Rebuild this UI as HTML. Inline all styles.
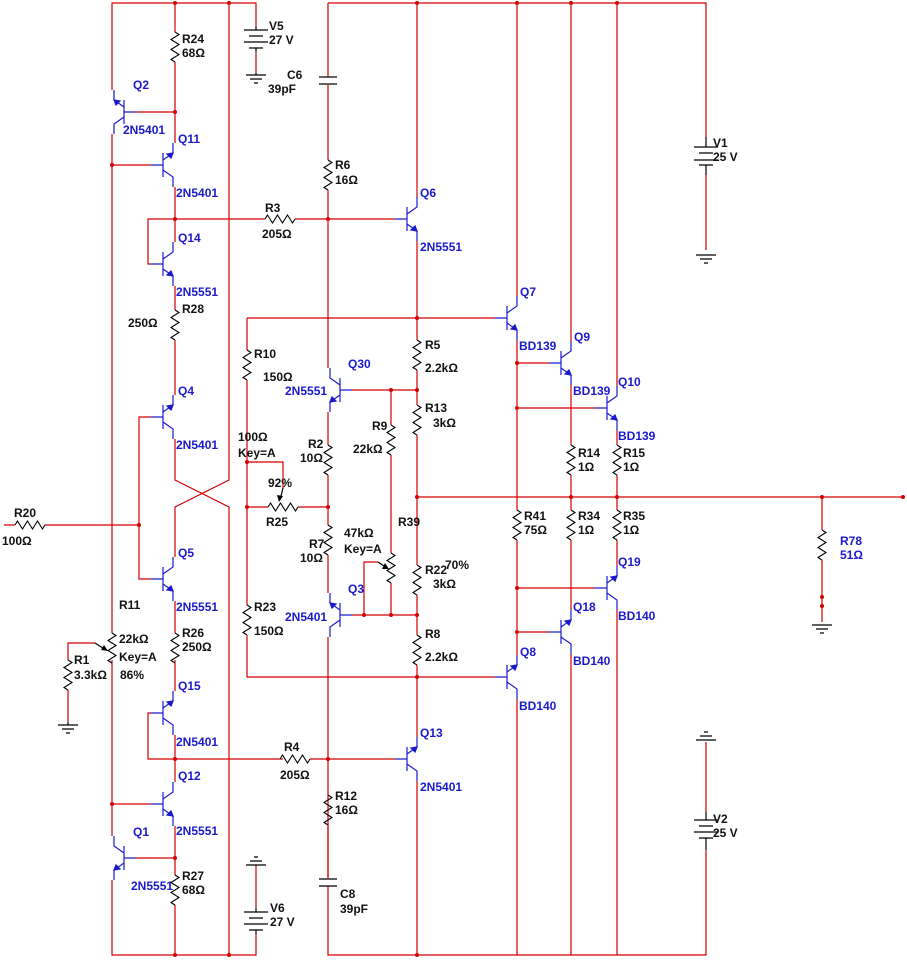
<!DOCTYPE html>
<html><head><meta charset="utf-8"><style>
body{margin:0;background:#fff}
svg{display:block}
text{font-family:"Liberation Sans",Arial,sans-serif;font-size:12px;font-weight:bold;fill:#111}
.b{fill:#1a1acc}
.w{stroke:#d40000;stroke-width:1.2;fill:none}
.k{stroke:#000;stroke-width:1.2;fill:none}
.t{stroke:#1a1acc;stroke-width:1.2;fill:none}
.d{fill:#d40000}
</style></head><body>
<svg width="907" height="960" viewBox="0 0 907 960" xmlns="http://www.w3.org/2000/svg">
<defs>
<path id="rv" d="M0,0 l4,2.5 l-8,5 l8,5 l-8,5 l8,5 l-8,5 l4,2.5" stroke="#000" stroke-width="1.1" fill="none"/>
<path id="rh" d="M0,0 l2.5,-4 l5,8 l5,-8 l5,8 l5,-8 l5,8 l2.5,-4" stroke="#000" stroke-width="1.1" fill="none"/>
<g id="q" stroke="#1a1acc" stroke-width="1.2" fill="none">
<path d="M0,-12 V12 M-12,0 H0 M0,-5 L10,-12 V-22 M0,5 L10,12 V22"/>
<path d="M10,12 L4,11 L8,7 Z" fill="#1a1acc"/>
</g>
<g id="gnd" stroke="#000" stroke-width="1.2"><path d="M-10,0 H10 M-6,4 H6 M-2,8 H2"/></g>
</defs>

<!-- wires -->
<g class="w">
<path d="M112,90 V3 H256 V26"/>
<path d="M175,3 V32 M175,62 V143 M175,187 V242 M175,286 V310 M175,340 V395 M175,439 V480 L229,507 V955"/>
<path d="M229,3 V480 L175,507 V557 M175,601 V633 M175,660 V691 M175,735 V782 M175,826 V875 M175,905 V955"/>
<path d="M112,134 V633 M112,660 V836 M112,880 V955 H256 V934"/>
<path d="M136,112 H175 M112,165 H151 M112,804 H151 M136,858 H175"/>
<path d="M175,219 H148 V264 H151 M148,219 H265 M295,219 H395"/>
<path d="M151,417 H139 V579 H151 M4,525 H15 M45,525 H139"/>
<path d="M151,713 H148 V759 H283 M310,759 H395"/>
<path d="M68,722 V690 M68,660 V643 H95"/>
<path d="M328,3 H706 V137 M706,175 V250"/>
<path d="M328,3 V77 M328,85 V160 M328,190 V368 M328,412 V445 M328,475 V525 M328,555 V593 M328,637 V878 M328,886 V955 H706 V850 M706,812 V742"/>
<path d="M256,52 V73 M256,866 V908"/>
<path d="M352,390 H417 M352,615 H417"/>
<path d="M391,390 V425 M391,455 V553 M391,583 V615 M364,615 V562 H378"/>
<path d="M417,3 V197 M417,241 V340 M417,370 V405 M417,435 V565 M417,595 V635 M417,665 V737 M417,781 V955"/>
<path d="M247,318 H495 M247,318 V350 M247,380 V605 M247,635 V677 H495"/>
<path d="M247,507 H268 M298,507 H328 M247,462 H283 V488"/>
<path d="M517,3 V296 M517,340 V510 M517,540 V655 M517,699 V955"/>
<path d="M517,363 H549 M517,408 H595 M517,588 H595 M517,632 H549"/>
<path d="M571,3 V341 M571,385 V445 M571,475 V510 M571,540 V610 M571,654 V955"/>
<path d="M617,3 V386 M617,430 V445 M617,475 V510 M617,540 V566 M617,610 V955"/>
<path d="M417,497 H903 M822,497 V530 M822,560 V622"/>
</g>
<!-- dots -->
<g class="d">
<circle cx="175" cy="3" r="2"/><circle cx="229" cy="3" r="2"/><circle cx="175" cy="112" r="2"/><circle cx="112" cy="165" r="2"/>
<circle cx="175" cy="219" r="2"/><circle cx="139" cy="525" r="2"/><circle cx="175" cy="759" r="2"/><circle cx="112" cy="804" r="2"/>
<circle cx="175" cy="858" r="2"/><circle cx="175" cy="955" r="2"/><circle cx="229" cy="955" r="2"/>
<circle cx="328" cy="219" r="2"/><circle cx="328" cy="507" r="2"/><circle cx="328" cy="759" r="2"/>
<circle cx="391" cy="390" r="2"/><circle cx="417" cy="390" r="2"/><circle cx="364" cy="615" r="2"/><circle cx="391" cy="615" r="2"/><circle cx="417" cy="615" r="2"/>
<circle cx="417" cy="3" r="2"/><circle cx="417" cy="318" r="2"/><circle cx="417" cy="497" r="2"/><circle cx="417" cy="677" r="2"/><circle cx="417" cy="955" r="2"/>
<circle cx="247" cy="462" r="2"/><circle cx="247" cy="507" r="2"/>
<circle cx="517" cy="3" r="2"/><circle cx="571" cy="3" r="2"/><circle cx="617" cy="3" r="2"/>
<circle cx="517" cy="363" r="2"/><circle cx="517" cy="408" r="2"/><circle cx="517" cy="588" r="2"/><circle cx="517" cy="632" r="2"/>
<circle cx="571" cy="497" r="2"/><circle cx="617" cy="497" r="2"/><circle cx="822" cy="497" r="2"/><circle cx="903" cy="497" r="2"/>
<circle cx="822" cy="597" r="2"/><circle cx="822" cy="606" r="2"/>
</g>
<!-- resistors -->
<use href="#rv" x="175" y="32"/><use href="#rv" x="175" y="310"/><use href="#rv" x="175" y="633"/><use href="#rv" x="175" y="875"/>
<use href="#rv" x="112" y="633"/><use href="#rv" x="68" y="660"/>
<use href="#rv" x="328" y="160"/><use href="#rv" x="328" y="445"/><use href="#rv" x="328" y="525"/><use href="#rv" x="328" y="795"/>
<path class="w" d="M328,825 V878"/>
<use href="#rv" x="391" y="425"/><use href="#rv" x="391" y="553"/>
<use href="#rv" x="417" y="340"/><use href="#rv" x="417" y="405"/><use href="#rv" x="417" y="565"/><use href="#rv" x="417" y="635"/>
<use href="#rv" x="247" y="350"/><use href="#rv" x="247" y="605"/>
<use href="#rv" x="517" y="510"/><use href="#rv" x="571" y="445"/><use href="#rv" x="571" y="510"/><use href="#rv" x="617" y="445"/><use href="#rv" x="617" y="510"/>
<use href="#rv" x="822" y="530"/>
<use href="#rh" x="265" y="219"/><use href="#rh" x="280" y="759"/><use href="#rh" x="15" y="525"/><use href="#rh" x="268" y="507"/>
<!-- wiper arrows -->
<g class="k"><path d="M95,643 L106,650"/><path d="M283,488 L280,500"/><path d="M378,562 L387,568"/></g>
<path d="M108,651 L101,650 L104,645 Z"/><path d="M279,502 L277,495 L283,496 Z"/><path d="M389,569 L382,569 L385,563 Z"/>
<!-- capacitors -->
<g class="k"><path d="M319,77 H337 M319,84 H337 M319,879 H337 M319,886 H337"/></g>
<!-- batteries -->
<g class="k">
<path d="M256,26 V30 M244,30 H268 M249,36 H263 M244,42 H268 M249,48 H263 M256,48 V52 M256,73 V75"/>
<path d="M694,147 H718 M699,153 H713 M694,160 H718 M699,165 H713 M706,137 V147 M706,165 V175"/>
<path d="M256,865 V866 M256,908 V912 M244,912 H268 M249,918 H263 M244,924 H268 M249,930 H263 M256,930 V934"/>
<path d="M694,820 H718 M699,826 H713 M694,832 H718 M699,838 H713 M706,812 V820 M706,838 V850"/>
<path d="M68,722 V725"/>
</g>
<use href="#gnd" x="256" y="75"/><use href="#gnd" x="68" y="725"/><use href="#gnd" x="706" y="255"/><use href="#gnd" x="822" y="625"/>
<g stroke="#000" stroke-width="1.2"><path d="M246,865 H266 M250,861 H262 M254,857 H258 M696,740 H716 M700,736 H712 M704,732 H708"/></g>
<!-- transistors -->
<use href="#q" transform="translate(124,112) scale(-1,-1)"/>
<use href="#q" transform="translate(163,165) scale(1,-1)"/>
<use href="#q" transform="translate(163,264)"/>
<use href="#q" transform="translate(163,417) scale(1,-1)"/>
<use href="#q" transform="translate(163,579)"/>
<use href="#q" transform="translate(163,713) scale(1,-1)"/>
<use href="#q" transform="translate(163,804)"/>
<use href="#q" transform="translate(124,858) scale(-1,1)"/>
<use href="#q" transform="translate(340,390) scale(-1,1)"/>
<use href="#q" transform="translate(340,615) scale(-1,-1)"/>
<use href="#q" transform="translate(407,219)"/>
<use href="#q" transform="translate(407,759) scale(1,-1)"/>
<use href="#q" transform="translate(507,318)"/>
<use href="#q" transform="translate(561,363)"/>
<use href="#q" transform="translate(607,408)"/>
<use href="#q" transform="translate(507,677) scale(1,-1)"/>
<use href="#q" transform="translate(561,632) scale(1,-1)"/>
<use href="#q" transform="translate(607,588) scale(1,-1)"/>

<!-- labels -->
<text x="182" y="43">R24</text><text x="182" y="57">68Ω</text>
<text class="b" x="133" y="89">Q2</text><text class="b" x="123" y="134">2N5401</text>
<text class="b" x="178" y="143">Q11</text><text class="b" x="176" y="197">2N5401</text>
<text x="265" y="212">R3</text><text x="262" y="238">205Ω</text>
<text x="335" y="169">R6</text><text x="335" y="184">16Ω</text>
<text x="287" y="79">C6</text><text x="268" y="93">39pF</text>
<text x="269" y="30">V5</text><text x="269" y="44">27 V</text>
<text class="b" x="420" y="197">Q6</text><text class="b" x="420" y="251">2N5551</text>
<text class="b" x="178" y="242">Q14</text><text class="b" x="176" y="296">2N5551</text>
<text x="182" y="313">R28</text><text x="128" y="327">250Ω</text>
<text x="254" y="358">R10</text><text x="263" y="381">150Ω</text>
<text class="b" x="348" y="368">Q30</text><text class="b" x="285" y="395">2N5551</text>
<text x="425" y="349">R5</text><text x="425" y="372">2.2kΩ</text>
<text x="425" y="412">R13</text><text x="433" y="427">3kΩ</text>
<text x="372" y="430">R9</text><text x="353" y="453">22kΩ</text>
<text class="b" x="178" y="395">Q4</text><text class="b" x="176" y="449">2N5401</text>
<text x="238" y="441">100Ω</text><text x="238" y="457">Key=A</text>
<text x="308" y="448">R2</text><text x="300" y="462">10Ω</text>
<text x="268" y="487">92%</text><text x="266" y="526">R25</text>
<text x="14" y="517">R20</text><text x="2" y="545">100Ω</text>
<text class="b" x="178" y="557">Q5</text><text x="119" y="609">R11</text><text class="b" x="176" y="611">2N5551</text>
<text x="344" y="537">47kΩ</text><text x="344" y="553">Key=A</text>
<text x="309" y="548">R7</text><text x="300" y="562">10Ω</text>
<text x="398" y="526">R39</text>
<text x="425" y="574">R22</text><text x="445" y="569">70%</text><text x="433" y="588">3kΩ</text>
<text class="b" x="348" y="593">Q3</text><text class="b" x="285" y="621">2N5401</text>
<text x="254" y="611">R23</text><text x="254" y="635">150Ω</text>
<text x="425" y="638">R8</text><text x="425" y="661">2.2kΩ</text>
<text x="182" y="637">R26</text><text x="182" y="651">250Ω</text>
<text x="119" y="643">22kΩ</text><text x="119" y="661">Key=A</text><text x="120" y="679">86%</text>
<text x="74" y="664">R1</text><text x="74" y="679">3.3kΩ</text>
<text class="b" x="178" y="690">Q15</text><text class="b" x="176" y="746">2N5401</text>
<text x="284" y="751">R4</text><text x="280" y="779">205Ω</text>
<text class="b" x="420" y="737">Q13</text><text class="b" x="420" y="791">2N5401</text>
<text x="335" y="800">R12</text><text x="335" y="814">16Ω</text>
<text class="b" x="178" y="780">Q12</text><text class="b" x="176" y="835">2N5551</text>
<text class="b" x="133" y="836">Q1</text><text class="b" x="131" y="890">2N5551</text>
<text x="182" y="880">R27</text><text x="182" y="894">68Ω</text>
<text x="340" y="898">C8</text><text x="340" y="913">39pF</text>
<text x="270" y="912">V6</text><text x="270" y="926">27 V</text>
<text class="b" x="520" y="296">Q7</text><text class="b" x="519" y="350">BD139</text>
<text class="b" x="574" y="341">Q9</text><text class="b" x="573" y="395">BD139</text>
<text class="b" x="618" y="386">Q10</text><text class="b" x="618" y="440">BD139</text>
<text x="578" y="457">R14</text><text x="578" y="471">1Ω</text>
<text x="623" y="457">R15</text><text x="623" y="471">1Ω</text>
<text x="524" y="520">R41</text><text x="524" y="534">75Ω</text>
<text x="578" y="520">R34</text><text x="578" y="534">1Ω</text>
<text x="623" y="520">R35</text><text x="623" y="534">1Ω</text>
<text class="b" x="618" y="566">Q19</text><text class="b" x="618" y="620">BD140</text>
<text class="b" x="573" y="611">Q18</text><text class="b" x="573" y="665">BD140</text>
<text class="b" x="520" y="656">Q8</text><text class="b" x="519" y="710">BD140</text>
<text x="713" y="147">V1</text><text x="713" y="161">25 V</text>
<text x="713" y="823">V2</text><text x="713" y="837">25 V</text>
<text class="b" x="840" y="545">R78</text><text class="b" x="840" y="559">51Ω</text>
</svg>
</body></html>
